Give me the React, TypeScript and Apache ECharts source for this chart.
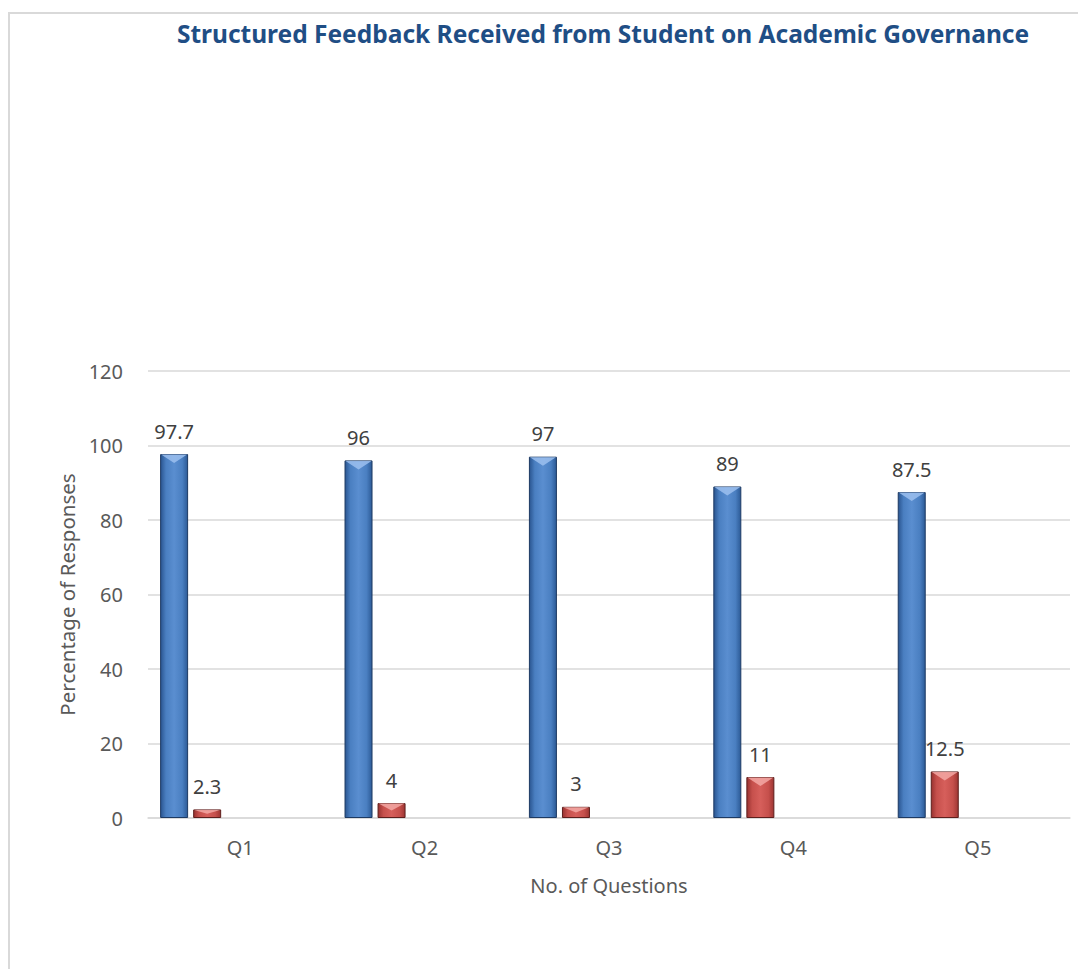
import React, { useEffect, useRef } from "react";
import * as echarts from "echarts";

const categories = ["Q1", "Q2", "Q3", "Q4", "Q5"];
const seriesBlue = [97.7, 96, 97, 89, 87.5];
const seriesRed = [2.3, 4, 3, 11, 12.5];
const yTicks = { min: 0, max: 120, interval: 20 };

const TITLE = "Structured Feedback Received from Student on Academic Governance";
const FONT = "'Noto Sans', 'Open Sans', sans-serif";
const BAR_W = 28;
const GAP = 0.18;

export default function App() {
  const ref = useRef<HTMLDivElement>(null);
  useEffect(() => {
    if (!ref.current) return;
    const chart = echarts.init(ref.current, undefined, { renderer: "svg" });

    const step = BAR_W * (1 + GAP);
    const bevel = (slot: number, color: string) => (params: any, api: any) => {
      const cat = api.value(0);
      const val = api.value(1);
      const top = api.coord([cat, val]);
      const base = api.coord([cat, 0]);
      const x0 = top[0] + (slot - 2) * step - BAR_W / 2;
      const h = Math.min(9, (base[1] - top[1]) / 2);
      return {
        type: "polygon",
        silent: true,
        shape: {
          points: [
            [x0 + 1, top[1] + 0.5],
            [x0 + BAR_W - 1, top[1] + 0.5],
            [x0 + BAR_W / 2, top[1] + h],
          ],
        },
        style: { fill: color, opacity: 0.85 },
      };
    };

    const labelStyle = {
      show: true,
      position: "top",
      distance: 13,
      fontSize: 20,
      color: "#404040",
      fontFamily: FONT,
    };

    const gradBlue = new echarts.graphic.LinearGradient(1, 0, 0, 0, [
      { offset: 0, color: "#2c5a96" },
      { offset: 0.2, color: "#4a7fc1" },
      { offset: 0.5, color: "#5a8ed0" },
      { offset: 0.8, color: "#4a7fc1" },
      { offset: 1, color: "#2a5590" },
    ]);
    const gradRed = new echarts.graphic.LinearGradient(1, 0, 0, 0, [
      { offset: 0, color: "#9e3633" },
      { offset: 0.2, color: "#c6504c" },
      { offset: 0.5, color: "#d65f5b" },
      { offset: 0.8, color: "#c6504c" },
      { offset: 1, color: "#983230" },
    ]);

    const empty = categories.map(() => "-");

    chart.setOption({
      animation: false,
      backgroundColor: "#ffffff",
      graphic: [
        {
          type: "rect",
          shape: { x: 1, y: 5, width: 1200, height: 1200 },
          style: { fill: "none", stroke: "#d9d9d9", lineWidth: 2 },
          silent: true,
        },
        {
          type: "text",
          x: 595,
          y: 25,
          style: {
            text: TITLE,
            fontSize: 24.5,
            fontWeight: "bold",
            fontFamily: FONT,
            fill: "#1f4e85",
            textAlign: "center",
            textVerticalAlign: "middle",
          },
        },
      ],
      grid: { left: 140, right: 16, top: 363, bottom: 151 },
      xAxis: {
        type: "category",
        data: categories,
        axisTick: { show: false },
        axisLine: { lineStyle: { color: "#d9d9d9", width: 1.5 } },
        axisLabel: { fontSize: 20, color: "#595959", fontFamily: FONT, margin: 19 },
        name: "No. of Questions",
        nameLocation: "middle",
        nameGap: 57,
        nameTextStyle: { fontSize: 20, color: "#595959", fontFamily: FONT },
      },
      yAxis: {
        type: "value",
        min: yTicks.min,
        max: yTicks.max,
        interval: yTicks.interval,
        axisLine: { show: false },
        axisTick: { show: false },
        splitLine: { lineStyle: { color: "#d9d9d9", width: 1.5 } },
        axisLabel: { fontSize: 20, color: "#595959", fontFamily: FONT, margin: 25 },
        name: "Percentage of Responses",
        nameLocation: "middle",
        nameGap: 71,
        nameTextStyle: { fontSize: 20.5, color: "#595959", fontFamily: FONT },
      },
      series: [
        {
          type: "bar",
          data: seriesBlue,
          barWidth: BAR_W,
          barGap: GAP * 100 + "%",
          itemStyle: { color: gradBlue, borderColor: "#1d3a63", borderWidth: 1 },
          label: labelStyle,
        },
        {
          type: "bar",
          data: seriesRed,
          barWidth: BAR_W,
          barGap: GAP * 100 + "%",
          itemStyle: { color: gradRed, borderColor: "#5e1f1d", borderWidth: 1 },
          label: labelStyle,
        },
        { type: "bar", data: empty, barWidth: BAR_W, barGap: GAP * 100 + "%" },
        { type: "bar", data: empty, barWidth: BAR_W, barGap: GAP * 100 + "%" },
        { type: "bar", data: empty, barWidth: BAR_W, barGap: GAP * 100 + "%" },
        {
          type: "custom",
          silent: true,
          z: 5,
          data: seriesBlue.map((v, i) => [i, v]),
          encode: { x: 0, y: 1 },
          renderItem: bevel(0, "#9cc0ee"),
        },
        {
          type: "custom",
          silent: true,
          z: 5,
          data: seriesRed.map((v, i) => [i, v]),
          encode: { x: 0, y: 1 },
          renderItem: bevel(1, "#f3a8a5"),
        },
      ],
    });
    return () => chart.dispose();
  }, []);
  return <div ref={ref} style={{ width: 1078, height: 961 }} />;
}
